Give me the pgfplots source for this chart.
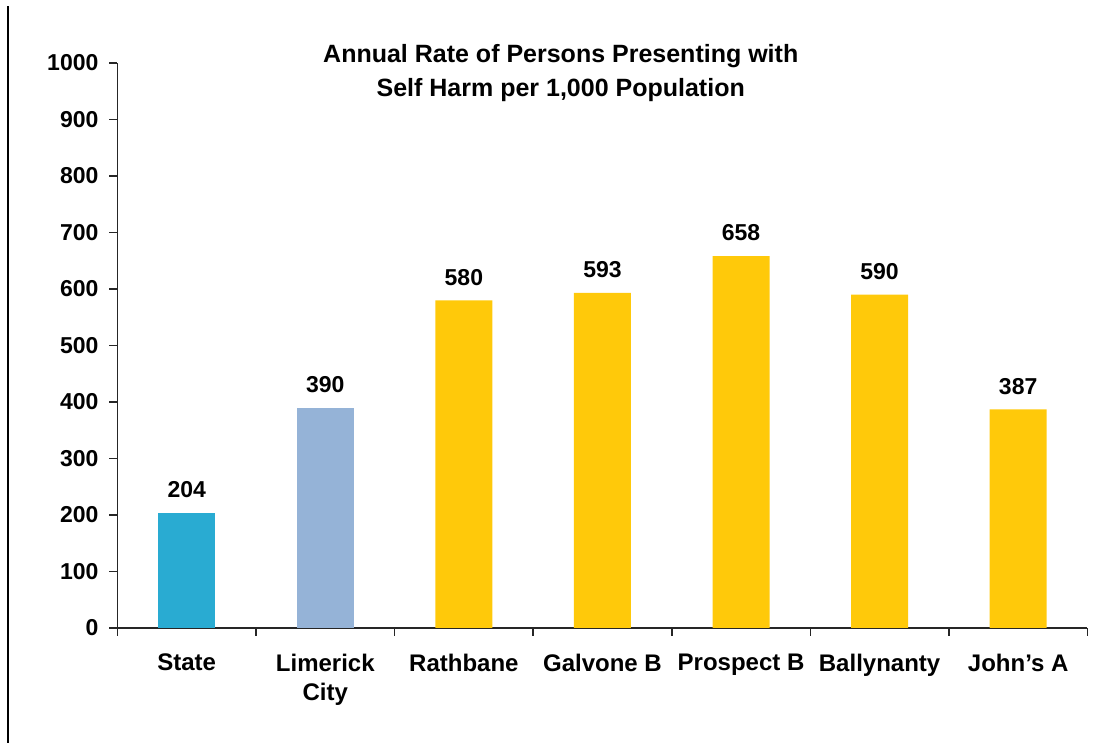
\documentclass[border=0pt]{standalone}
\usepackage{pgfplots}
\pgfplotsset{compat=1.18}
\usepackage{fontspec}
\setmainfont{Liberation Sans}
\definecolor{stateblue}{RGB}{41,171,210}
\definecolor{cityblue}{RGB}{149,179,215}
\definecolor{areayellow}{RGB}{255,201,10}
\begin{document}
\begin{tikzpicture}[font=\bfseries]
\begin{axis}[
    width=485pt, height=282.5pt, scale only axis,
    xmin=-0.5, xmax=6.5, ymin=0, ymax=1000,
    axis lines*=left,
    axis line style={line width=0.8pt, black!85},
    ytick={0,100,...,1000},
    tick align=outside,
    major tick length=4pt,
    tick style={line width=0.8pt, black!85},
    yticklabel style={font=\bfseries\fontsize{11.5}{12}\selectfont, xshift=-2pt},
    /pgf/number format/assume math mode=true,
    /pgf/number format/set thousands separator={},
    xtick={-0.5,0.5,...,6.5},
    xticklabels={},
    extra x ticks={0,...,6},
    extra x tick labels={State, {Limerick\\City}, Rathbane, Galvone B, Prospect B, Ballynanty, John's A},
    extra x tick style={major tick length=0pt,
        xticklabel style={font=\bfseries\fontsize{12}{14.5}\selectfont, align=center, yshift=-9.5pt}},
    ybar, bar width=28.5pt, bar shift=0pt,
    nodes near coords,
    nodes near coords style={font=\bfseries\fontsize{11.5}{12}\selectfont, black, yshift=4pt},
    clip=false,
]
\addplot[fill=stateblue, draw=none] coordinates {(0,204)};
\addplot[fill=cityblue, draw=none] coordinates {(1,390)};
\addplot[fill=areayellow, draw=none] coordinates {(2,580) (3,593) (4,658) (5,590) (6,387)};
\node[align=center, font=\bfseries\fontsize{12.5}{17}\selectfont] at (rel axis cs:0.457,0.982)
    {Annual Rate of Persons Presenting with\\Self Harm per 1,000 Population};
\draw[line width=1pt] (rel axis cs:-0.1129,1.1) -- (rel axis cs:-0.1129,-0.2035);
\useasboundingbox (rel axis cs:-0.1211,-0.2035) rectangle (rel axis cs:1.0222,1.1115);
\end{axis}
\end{tikzpicture}
\end{document}
